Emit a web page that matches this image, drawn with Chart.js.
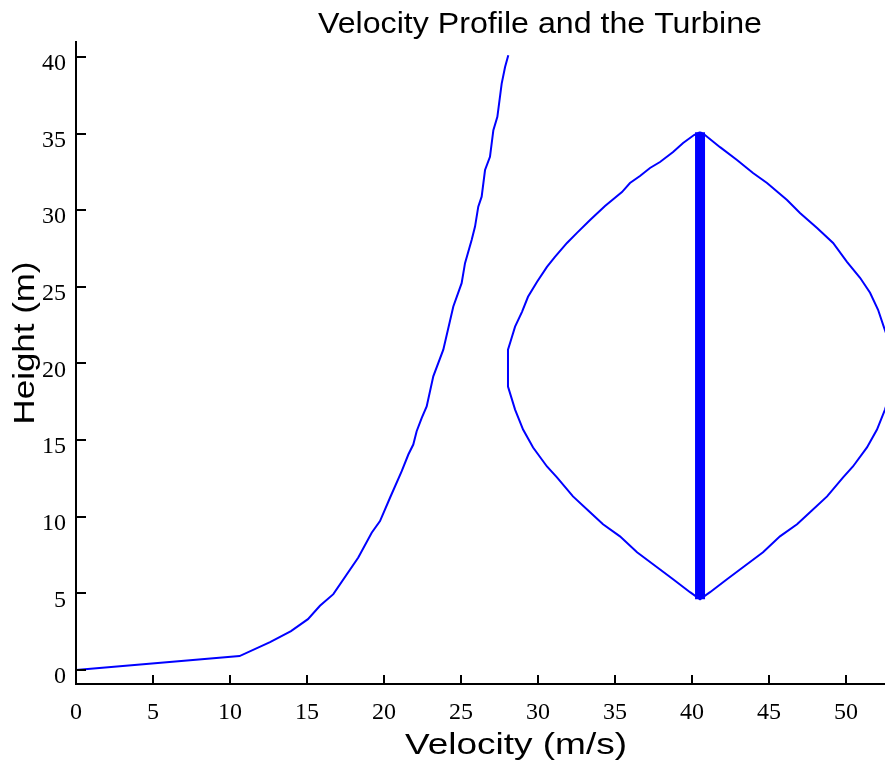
<!DOCTYPE html>
<html>
<head>
<meta charset="utf-8">
<script src="https://cdn.jsdelivr.net/npm/chart.js@4"></script>
<style>
  html, body { margin: 0; padding: 0; background: #fff; }
  #wrap { width: 885px; height: 766px; }
</style>
</head>
<body>
<div id="wrap"><canvas id="chart" width="885" height="766"></canvas></div>
<script>
// velocity profile (m/s vs height m)
const perfilVel = [0, 10.62, 12.6, 13.96, 15.06, 15.84, 16.71, 18.33, 19.2, 19.74, 20.39, 21.15, 21.58, 21.9, 22.12, 22.45, 22.77,
  23.2, 23.85, 24.5, 25.04, 25.26, 25.69, 25.91, 26.12, 26.34, 26.56, 26.88, 27.1, 27.36, 27.64, 27.86, 28.07];
const perfilAlt = [0, 0.91, 1.82, 2.54, 3.32, 4.19, 4.95, 7.34, 8.96, 9.72, 11.24, 12.97, 14.06, 14.71, 15.58, 16.45, 17.2,
  19.16, 20.9, 23.72, 25.24, 26.54, 28.06, 28.93, 30.23, 30.88, 32.62, 33.48, 35.22, 36.09, 38.26, 39.34, 40.1];

// turbine blade (vertical bar)
const turbinaX = [40.52, 40.52];
const turbinaY = [4.62, 35.09];

// swept outline, left side top -> bottom, then right side bottom -> top
const contornoX = [40.52, 40.13, 39.42, 38.77, 37.92, 37.27, 36.62, 35.97, 35.45, 34.35, 33.38, 32.53, 31.88, 31.1, 30.58, 29.94,
  29.35, 28.96, 28.51, 28.25, 28.05, 28.05, 28.51, 29.03, 29.68, 30.58, 31.23, 32.27, 33.38, 34.22, 35.32, 36.43, 37.73, 38.77,
  39.87, 40.52,
  41.17, 42.27, 43.31, 44.61, 45.71, 46.82, 47.66, 48.77, 49.81, 50.45, 51.36, 52.01, 52.53, 52.99, 52.99, 52.47, 52.08, 51.56,
  50.91, 50.06, 49.16, 48.12, 47.01, 46.17, 44.87, 43.96, 42.92, 41.82, 40.84, 40.52];
const contornoY = [35.09, 34.9, 34.38, 33.79, 33.14, 32.75, 32.23, 31.77, 31.18, 30.27, 29.36, 28.52, 27.86, 26.95, 26.3, 25.33,
  24.35, 23.37, 22.4, 21.55, 20.9, 18.49, 16.99, 15.69, 14.52, 13.28, 12.57, 11.33, 10.29, 9.51, 8.72, 7.68, 6.71, 5.92,
  5.08, 4.62,
  5.08, 5.92, 6.71, 7.68, 8.72, 9.51, 10.29, 11.33, 12.57, 13.28, 14.52, 15.69, 16.99, 18.49, 20.9, 22.33, 23.5, 24.61,
  25.59, 26.63, 27.86, 28.84, 29.82, 30.66, 31.77, 32.42, 33.27, 34.11, 34.9, 35.09];

const xTicks = [0, 5, 10, 15, 20, 25, 30, 35, 40, 45, 50];
const yTicks = [0, 5, 10, 15, 20, 25, 30, 35, 40];

const pares = (xs, ys) => xs.map((x, i) => ({ x: x, y: ys[i] }));

const azul = "#0000ff";
const serif = "'Liberation Serif', 'Times New Roman', serif";
const sans = "'Liberation Sans', Arial, sans-serif";

// texto centrado y estirado a un ancho dado
function textoAjustado(ctx, txt, cx, cy, ancho, rot) {
  ctx.save();
  ctx.translate(cx, cy);
  if (rot) ctx.rotate(rot);
  const w = ctx.measureText(txt).width;
  ctx.scale(ancho / w, 1);
  ctx.fillText(txt, 0, 0);
  ctx.restore();
}

// ===============================
//   TICKS HACIA DENTRO + TITULOS
// ===============================
const extras = {
  id: "extras",
  afterDraw(chart) {
    const ctx = chart.ctx;
    const xs = chart.scales.x, ys = chart.scales.y;
    const a = chart.chartArea;
    ctx.save();
    ctx.strokeStyle = "#000";
    ctx.lineWidth = 2;
    ctx.beginPath();
    xTicks.forEach(v => {
      const px = Math.round(xs.getPixelForValue(v));
      ctx.moveTo(px, a.bottom);
      ctx.lineTo(px, a.bottom - 9);
    });
    yTicks.forEach(v => {
      const py = Math.round(ys.getPixelForValue(v));
      ctx.moveTo(a.left, py);
      ctx.lineTo(a.left + 10, py);
    });
    ctx.stroke();

    ctx.fillStyle = "#000";
    ctx.font = "30px " + sans;
    ctx.textAlign = "center";
    ctx.textBaseline = "middle";
    textoAjustado(ctx, "Velocity Profile and the Turbine", 540, 25, 444, 0);
    textoAjustado(ctx, "Velocity (m/s)", 516, 746, 222, 0);
    textoAjustado(ctx, "Height (m)", 26, 343, 163, -Math.PI / 2);
    ctx.restore();
  }
};

new Chart(document.getElementById("chart"), {
  type: "scatter",
  data: {
    datasets: [
      { data: pares(perfilVel, perfilAlt), showLine: true, borderColor: azul, borderWidth: 2, pointRadius: 0, fill: false },
      { data: pares(turbinaX, turbinaY), showLine: true, borderColor: azul, borderWidth: 10, borderCapStyle: "butt", pointRadius: 0 },
      { data: pares(contornoX, contornoY), showLine: true, borderColor: azul, borderWidth: 2, pointRadius: 0 },
    ]
  },
  options: {
    responsive: false,
    animation: false,
    devicePixelRatio: 1,
    layout: { padding: { top: 42, left: 0, right: 0, bottom: 0 } },
    plugins: { legend: { display: false }, title: { display: false }, tooltip: { enabled: false } },
    scales: {
      x: {
        type: "linear",
        min: 0,
        max: 52.53,
        afterFit: (s) => { s.height = 82; },
        afterBuildTicks: (s) => { s.ticks = xTicks.map(v => ({ value: v })); },
        grid: { display: true, drawOnChartArea: false, drawTicks: false },
        border: { display: true, color: "#000", width: 2 },
        ticks: { color: "#000", padding: 14, font: { family: serif, size: 24 }, maxRotation: 0, autoSkip: false }
      },
      y: {
        type: "linear",
        min: -0.91,
        max: 40.97,
        afterFit: (s) => { s.width = 76; },
        afterBuildTicks: (s) => { s.ticks = yTicks.map(v => ({ value: v })); },
        grid: { display: true, drawOnChartArea: false, drawTicks: false },
        border: { display: true, color: "#000", width: 2 },
        ticks: { color: "#000", padding: 10, labelOffset: 7, font: { family: serif, size: 24 }, autoSkip: false }
      }
    }
  },
  plugins: [extras]
});
</script>
</body>
</html>
